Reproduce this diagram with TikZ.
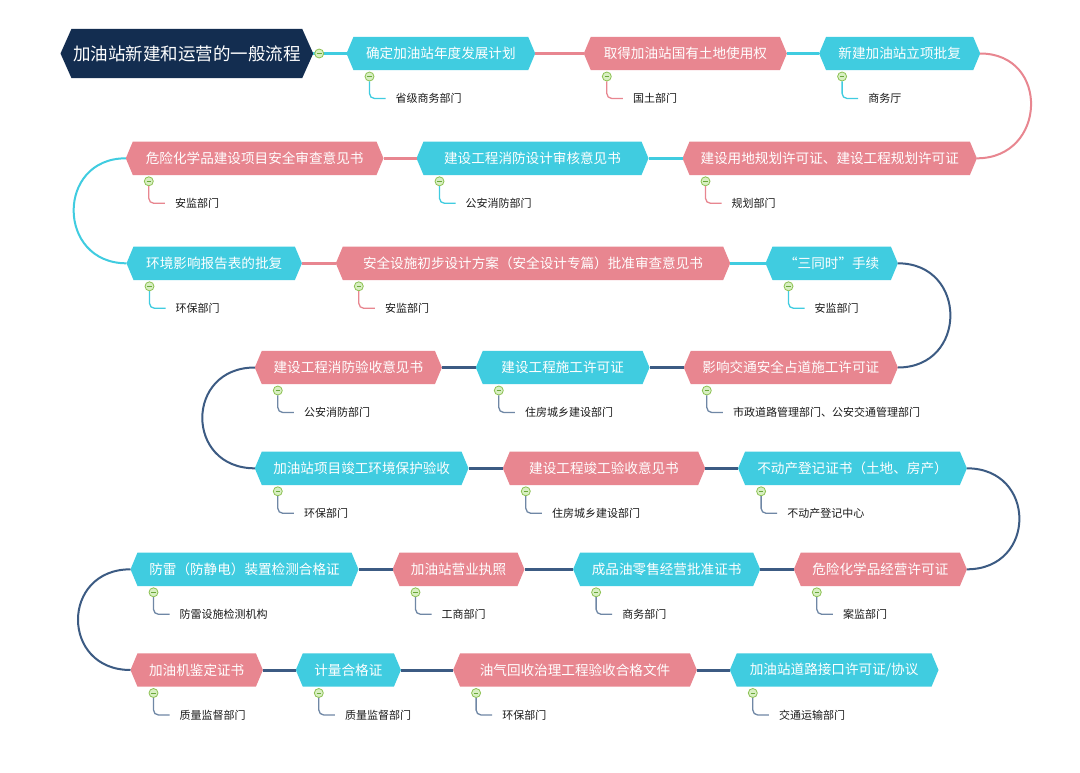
\documentclass[tikz,border=0pt]{standalone}
\usepackage{fontspec}
\newfontfamily\cjk{Noto Sans CJK SC}
\usetikzlibrary{backgrounds}
\definecolor{cyanC}{HTML}{40CCE0}
\definecolor{pinkC}{HTML}{E88690}
\definecolor{rootC}{HTML}{132D50}
\definecolor{navyL}{HTML}{3C5B83}
\definecolor{navyS}{HTML}{6F87A5}
\definecolor{grnB}{HTML}{8CC152}
\definecolor{grnF}{HTML}{D8EFC2}
\definecolor{grnM}{HTML}{6AA83A}
\definecolor{lblC}{HTML}{1A1A1A}
\tikzset{
  hexn/.style={inner sep=0pt, minimum height=33pt, text=white, font=\cjk\fontsize{13.6}{16}\selectfont},
  circ/.style={circle, draw=grnB, fill=grnF, line width=0.8pt, minimum size=9pt, inner sep=0pt,
    path picture={\draw[grnM, line width=1pt] ([xshift=-2.3pt]path picture bounding box.center) -- ([xshift=2.3pt]path picture bounding box.center);}},
  lbl/.style={anchor=west, inner sep=0pt, text=lblC, font=\cjk\fontsize{11}{13}\selectfont},
  childline/.style={line width=1.3pt, rounded corners=5pt},
  conn/.style={line width=3pt},
  curv/.style={line width=2pt},
}
\newcommand\hx[8]{%
  \pgfmathsetmacro\hxc{(#2+#3)/2}%
  \pgfmathsetmacro\hxw{#3-#2}%
  \node[hexn, minimum width={\hxw pt}] (#1) at (\hxc,#4) {#6};
  \begin{pgfonlayer}{background}
    \fill[#5] ([xshift=7pt]#1.north west) -- ([xshift=-7pt]#1.north east) -- (#1.east) -- ([xshift=-7pt]#1.south east) -- ([xshift=7pt]#1.south west) -- (#1.west) -- cycle;
  \end{pgfonlayer}
  \node[circ] (#1c) at ([xshift=23pt,yshift=-23pt]#1.west) {};
  \node[lbl] (#1l) at ([xshift=49pt,yshift=-45pt]#1.west) {#7};
  \draw[childline,#8] (#1c.south) |- ([xshift=-10pt]#1l.west);
}
\newcommand\rcurve[3]{\draw[curv,#3] (#1.east) .. controls ([xshift=70pt]#1.east) and ([xshift=70pt]#2.east) .. (#2.east);}
\newcommand\lcurve[3]{\draw[curv,#3] (#1.west) .. controls ([xshift=-70pt]#1.west) and ([xshift=-70pt]#2.west) .. (#2.west);}
\begin{document}
\begin{tikzpicture}[x=1pt,y=-1pt]
\useasboundingbox (0,0) rectangle (1080,772);
\begin{pgfonlayer}{background}
\fill[white] (0,0) rectangle (1080,772);
\end{pgfonlayer}
% root
\node[inner sep=0pt, minimum width=252.3pt, minimum height=49pt, text=white, font=\cjk\fontsize{17.5}{20}\selectfont] (root) at (186.85,53.5) {加油站新建和运营的一般流程};
\begin{pgfonlayer}{background}
  \fill[rootC] ([xshift=11pt]root.north west) -- ([xshift=-11pt]root.north east) -- (root.east) -- ([xshift=-11pt]root.south east) -- ([xshift=11pt]root.south west) -- (root.west) -- cycle;
\end{pgfonlayer}
% row 1
\hx{n1}{346.7}{535}{53.5}{cyanC}{确定加油站年度发展计划}{省级商务部门}{cyanC}
\hx{n2}{584}{786.7}{53.5}{pinkC}{取得加油站国有土地使用权}{国土部门}{pinkC}
\hx{n3}{819.3}{980}{53.5}{cyanC}{新建加油站立项批复}{商务厅}{cyanC}
% row 2
\hx{n4}{682.7}{976.7}{158.3}{pinkC}{建设用地规划许可证、建设工程规划许可证}{规划部门}{pinkC}
\hx{n5}{416.7}{648.3}{158.3}{cyanC}{建设工程消防设计审核意见书}{公安消防部门}{cyanC}
\hx{n6}{126}{383.3}{158.3}{pinkC}{危险化学品建设项目安全审查意见书}{安监部门}{pinkC}
% row 3
\hx{n7}{126.7}{301.7}{263.3}{cyanC}{环境影响报告表的批复}{环保部门}{cyanC}
\hx{n8}{336}{730}{263.3}{pinkC}{安全设施初步设计方案（安全设计专篇）批准审查意见书}{安监部门}{pinkC}
\hx{n9}{765.7}{897.7}{263.3}{cyanC}{“三同时”手续}{安监部门}{cyanC}
% row 4
\hx{n10}{684}{897.7}{367.5}{pinkC}{影响交通安全占道施工许可证}{市政道路管理部门、公安交通管理部门}{navyS}
\hx{n11}{476}{649.3}{367.5}{cyanC}{建设工程施工许可证}{住房城乡建设部门}{navyS}
\hx{n12}{255}{441.7}{367.5}{pinkC}{建设工程消防验收意见书}{公安消防部门}{navyS}
% row 5
\hx{n13}{255}{468.3}{468.3}{cyanC}{加油站项目竣工环境保护验收}{环保部门}{navyS}
\hx{n14}{503}{705}{468.3}{pinkC}{建设工程竣工验收意见书}{住房城乡建设部门}{navyS}
\hx{n15}{738.3}{966.7}{468.3}{cyanC}{不动产登记证书（土地、房产）}{不动产登记中心}{navyS}
% row 6
\hx{n16}{794}{966.7}{569.3}{pinkC}{危险化学品经营许可证}{案监部门}{navyS}
\hx{n17}{573.3}{760}{569.3}{cyanC}{成品油零售经营批准证书}{商务部门}{navyS}
\hx{n18}{392.7}{524.3}{569.3}{pinkC}{加油站营业执照}{工商部门}{navyS}
\hx{n19}{130.7}{358.3}{569.3}{cyanC}{防雷（防静电）装置检测合格证}{防雷设施检测机构}{navyS}
% row 7
\hx{n20}{130.7}{262.7}{670}{pinkC}{加油机鉴定证书}{质量监督部门}{navyS}
\hx{n21}{296}{400.7}{670}{cyanC}{计量合格证}{质量监督部门}{navyS}
\hx{n22}{453.3}{696.7}{670}{pinkC}{油气回收治理工程验收合格文件}{环保部门}{navyS}
\hx{n23}{730}{938.3}{670}{cyanC}{加油站道路接口许可证/协议}{交通运输部门}{navyS}
% connectors
\draw[conn,cyanC] (root.east) -- (n1.west);
\node[circ] (rootc) at ([xshift=6pt]root.east) {};
\draw[conn,pinkC] (n1.east) -- (n2.west);
\draw[conn,cyanC] (n2.east) -- (n3.west);
\rcurve{n3}{n4}{pinkC}
\draw[conn,cyanC] (n4.west) -- (n5.east);
\draw[conn,pinkC] (n5.west) -- (n6.east);
\lcurve{n6}{n7}{cyanC}
\draw[conn,pinkC] (n7.east) -- (n8.west);
\draw[conn,cyanC] (n8.east) -- (n9.west);
\rcurve{n9}{n10}{navyL}
\draw[conn,navyL] (n10.west) -- (n11.east);
\draw[conn,navyL] (n11.west) -- (n12.east);
\lcurve{n12}{n13}{navyL}
\draw[conn,navyL] (n13.east) -- (n14.west);
\draw[conn,navyL] (n14.east) -- (n15.west);
\rcurve{n15}{n16}{navyL}
\draw[conn,navyL] (n16.west) -- (n17.east);
\draw[conn,navyL] (n17.west) -- (n18.east);
\draw[conn,navyL] (n18.west) -- (n19.east);
\lcurve{n19}{n20}{navyL}
\draw[conn,navyL] (n20.east) -- (n21.west);
\draw[conn,navyL] (n21.east) -- (n22.west);
\draw[conn,navyL] (n22.east) -- (n23.west);
\end{tikzpicture}
\end{document}
